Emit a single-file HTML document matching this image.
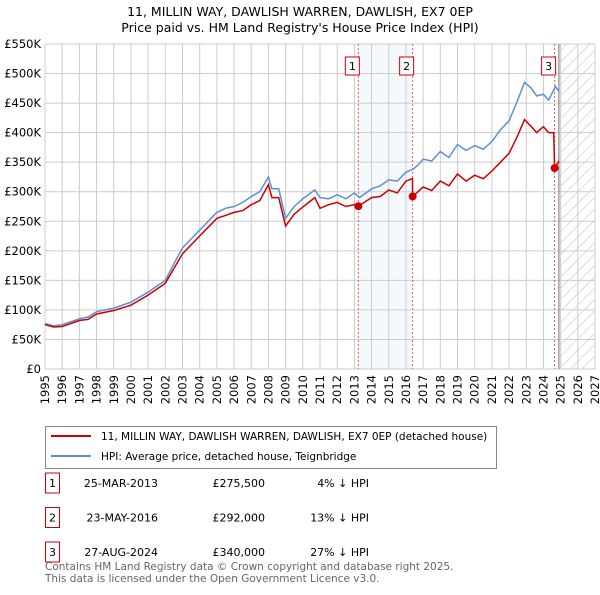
<!DOCTYPE html>
<html><head><meta charset="utf-8"><style>
body{margin:0;background:#fff;font-family:"Liberation Sans","DejaVu Sans",sans-serif;}
svg text{font-family:"DejaVu Sans","Liberation Sans",sans-serif;}
</style></head><body>
<svg id="chart" width="600" height="590" viewBox="0 0 600 590" xmlns="http://www.w3.org/2000/svg">
<defs><pattern id="hatch" width="8" height="8" patternUnits="userSpaceOnUse" patternTransform="rotate(45)"><line x1="0" y1="0" x2="0" y2="8" stroke="#bbb" stroke-width="1"/></pattern></defs>
<text x="300" y="16" font-size="12.5" text-anchor="middle">11, MILLIN WAY, DAWLISH WARREN, DAWLISH, EX7 0EP</text>
<text x="300" y="32" font-size="12.5" text-anchor="middle">Price paid vs. HM Land Registry's House Price Index (HPI)</text>
<g id="plot"></g>
<g>
<rect x="45.5" y="426.5" width="451" height="42" fill="#fff" stroke="#888"/>
<line x1="51" y1="436" x2="91" y2="436" stroke="#cc0000" stroke-width="2"/>
<text x="101" y="440" font-size="10.5">11, MILLIN WAY, DAWLISH WARREN, DAWLISH, EX7 0EP (detached house)</text>
<line x1="51" y1="456" x2="91" y2="456" stroke="#5b8fd4" stroke-width="2"/>
<text x="101" y="460" font-size="10.5">HPI: Average price, detached house, Teignbridge</text>
</g>
<g id="table" font-size="11"></g>
<text x="45" y="570" font-size="10.5" fill="#666">Contains HM Land Registry data © Crown copyright and database right 2025.</text>
<text x="45" y="582" font-size="10.5" fill="#666">This data is licensed under the Open Government Licence v3.0.</text>
</svg>
<script>
const hpiX=[1995,1995.5,1996,1997,1997.5,1998,1999,2000,2001,2001.5,2002,2002.5,2003,2003.5,2004,2004.5,2005,2005.5,2006,2006.5,2007,2007.5,2008,2008.2,2008.6,2009,2009.5,2010,2010.7,2011,2011.5,2012,2012.5,2013,2013.3,2014,2014.5,2015,2015.5,2016,2016.4,2016.7,2017,2017.5,2018,2018.5,2019,2019.5,2020,2020.5,2021,2021.5,2022,2022.5,2022.9,2023.3,2023.6,2024,2024.3,2024.7,2024.9];
const hpiY=[77,73,75,85,88,97,103,113,130,140,150,178,205,220,235,250,265,272,275,282,292,300,325,305,305,255,275,288,303,290,288,295,288,298,290,305,310,320,318,333,338,345,355,352,368,358,380,370,378,372,385,405,420,455,485,475,462,465,455,478,470];
const redX=[1995,1995.5,1996,1997,1997.5,1998,1999,2000,2001,2001.5,2002,2002.5,2003,2003.5,2004,2004.5,2005,2005.5,2006,2006.5,2007,2007.5,2008,2008.2,2008.6,2009,2009.5,2010,2010.7,2011,2011.5,2012,2012.5,2013,2013.23,2014,2014.5,2015,2015.5,2016,2016.38,2016.39,2016.7,2017,2017.5,2018,2018.5,2019,2019.5,2020,2020.5,2021,2021.5,2022,2022.5,2022.9,2023.3,2023.6,2024,2024.3,2024.6,2024.65,2024.9];
const redY=[75,71,72,82,84,93,99,108,125,135,145,170,195,210,225,240,255,260,265,268,278,285,312,290,290,242,262,274,290,272,278,282,275,278,275.5,290,292,303,298,318,322,292,300,308,302,318,310,330,318,328,322,335,350,365,395,422,410,400,410,400,400,340,352];
const saleX=[2013.23,2016.39,2024.65];
const saleY=[275.5,292,340];
const saleLabels=["1","2","3"];
const saleDates=["25-MAR-2013","23-MAY-2016","27-AUG-2024"];
const salePrices=["£275,500","£292,000","£340,000"];
const saleDiffs=["4% ↓ HPI","13% ↓ HPI","27% ↓ HPI"];
const yTicks=[0,50,100,150,200,250,300,350,400,450,500,550];
const xTicks=[1995,1996,1997,1998,1999,2000,2001,2002,2003,2004,2005,2006,2007,2008,2009,2010,2011,2012,2013,2014,2015,2016,2017,2018,2019,2020,2021,2022,2023,2024,2025,2026,2027];

const L=45,R=595,T=44,B=369;
const sx=v=>L+(v-1995)/32*(R-L);
const sy=v=>B-v/550*(B-T);
const NS="http://www.w3.org/2000/svg";
const plot=document.getElementById('plot');
function mk(tag,attrs,parent){const e=document.createElementNS(NS,tag);for(const k in attrs)e.setAttribute(k,attrs[k]);(parent||plot).appendChild(e);return e;}
let e;
e=mk('rect',{x:sx(2013.23),y:T,width:sx(2016.39)-sx(2013.23),height:B-T,fill:'#eef3fc',opacity:0.6});


e=mk('rect',{x:sx(2025),y:T,width:R-sx(2025),height:B-T,fill:'url(#hatch)'});


yTicks.forEach(t=>{
 e=mk('line',{x1:L,x2:R,y1:sy(t),y2:sy(t),stroke:'#ccc','stroke-width':1});
 
 
 e=mk('text',{x:L-4,y:sy(t)+4,'font-size':11.5,'text-anchor':'end'});
 e.textContent=t===0?'£0':'£'+t+'K';
 
 
});
xTicks.forEach(t=>{
 e=mk('line',{x1:sx(t),x2:sx(t),y1:T,y2:B,stroke:'#ccc','stroke-width':1});
 
 
 e=mk('text',{x:0,y:0,'font-size':11.5,'text-anchor':'end',transform:`translate(${sx(t)+4},${B+6}) rotate(-90)`});
 e.textContent=t;
 
 
});
e=mk('line',{x1:sx(2024.9),x2:sx(2024.9),y1:T,y2:B,stroke:'#888','stroke-width':1.2});


saleX.forEach((x,i)=>{
 e=mk('line',{x1:sx(x),x2:sx(x),y1:T,y2:B,stroke:'#e06060','stroke-width':1,'stroke-dasharray':'2,2'});
 
 
});
const pts=(xs,ys)=>xs.map((x,i)=>sx(x).toFixed(1)+','+sy(ys[i]).toFixed(1)).join(' ');
e=mk('polyline',{points:pts(hpiX,hpiY),fill:'none',stroke:'#5b8fd4','stroke-width':1.5});


e=mk('polyline',{points:pts(redX,redY),fill:'none',stroke:'#cc0000','stroke-width':1.5});


saleX.forEach((x,i)=>{
 e=mk('circle',{cx:sx(x),cy:sy(saleY[i]),r:4,fill:'#cc0000'});
 
 
 const bx=sx(x)-13;
 e=mk('rect',{x:bx,y:57,width:14,height:18,fill:'#fff',stroke:'#cc0000'});
 
 
 e=mk('text',{x:bx+7,y:70,'font-size':11,'text-anchor':'middle'});
 e.textContent=saleLabels[i];
 
 
});
const tb=document.getElementById('table');
saleLabels.forEach((lab,i)=>{
 const y=487+i*34.5;
 e=mk('rect',{x:45.5,y:y-14,width:14,height:20,fill:'#fff',stroke:'#cc0000'},tb);
 
 
 e=mk('text',{x:52.5,y:y,'text-anchor':'middle'},tb);e.textContent=lab;
 
 
 e=mk('text',{x:158,y:y,'text-anchor':'end'},tb);e.textContent=saleDates[i];
 
 
 e=mk('text',{x:265,y:y,'text-anchor':'end'},tb);e.textContent=salePrices[i];
 
 
 e=mk('text',{x:369,y:y,'text-anchor':'end'},tb);e.textContent=saleDiffs[i];
 
 
});
</script>
</body></html>
